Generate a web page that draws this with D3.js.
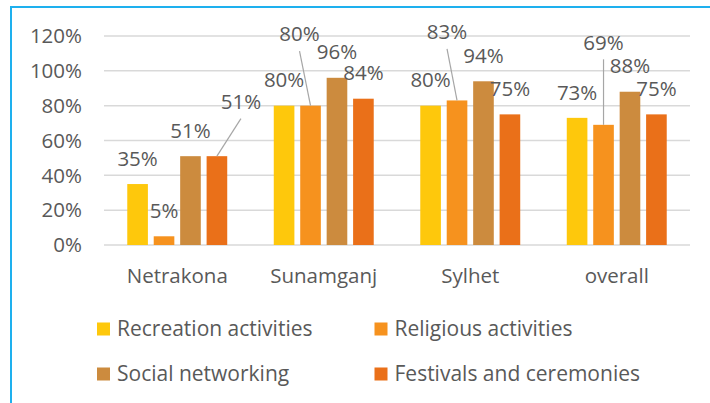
<!DOCTYPE html>
<html lang="en">
<head>
<meta charset="UTF-8">
<script src="https://cdnjs.cloudflare.com/ajax/libs/d3/7.8.5/d3.min.js"></script>
<title>Activities chart</title>
<style>
  body { margin: 0; background: #fff; font-family: 'Open Sans', sans-serif; }
  svg text { fill: #595959; }
</style>
</head>
<body>
<svg id="chart"></svg>
<script>
const categories = ['Netrakona', 'Sunamganj', 'Sylhet', 'overall']
const seriesNames = ['Recreation activities', 'Religious activities', 'Social networking', 'Festivals and ceremonies']
const recreation = [35, 80, 80, 73]
const religious = [5, 80, 83, 69]
const social = [51, 96, 94, 88]
const festivals = [51, 84, 75, 75]
const yTicks = [0, 20, 40, 60, 80, 100, 120]

const colors = ['#fec80c', '#f6921e', '#cc8b3e', '#ea7019']
// labels that Excel had dragged away from their bars: [category, series, dx, dy]
const moved = [[0, 3, 24, -29], [1, 1, -11, -46], [2, 1, -10, -43], [3, 1, 0, -57]]

const W = 710, H = 403
const margin = { top: 36, bot: 158, left: 104, right: 20 }
const allSeries = [recreation, religious, social, festivals]

const svg = d3.select('#chart').attr('width', W).attr('height', H)

// frame lines (top and left only)
svg.append('line').attr('x1', 10).attr('x2', W).attr('y1', 7).attr('y2', 7)
  .attr('stroke', '#1eb0ee').attr('stroke-width', 2)
svg.append('line').attr('x1', 11).attr('x2', 11).attr('y1', 6).attr('y2', H)
  .attr('stroke', '#1eb0ee').attr('stroke-width', 2)

const x0 = d3.scaleBand().domain(categories).range([margin.left, W - margin.right])
const x1 = d3.scaleBand().domain(d3.range(seriesNames.length))
  .range([0, x0.bandwidth()]).paddingInner(0.22).paddingOuter(0.88)
const y = d3.scaleLinear().domain([0, 120]).range([H - margin.bot, margin.top])

// gridlines
svg.append('g').selectAll('line').data(yTicks).enter().append('line')
  .attr('x1', margin.left).attr('x2', W - margin.right)
  .attr('y1', d => y(d)).attr('y2', d => y(d))
  .attr('stroke', '#d9d9d9').attr('stroke-width', 1.5)

// y labels
svg.append('g').selectAll('text').data(yTicks).enter().append('text')
  .attr('x', 82).attr('y', d => y(d)).attr('dy', '0.35em')
  .attr('text-anchor', 'end').style('font-size', '20.5px')
  .text(d => d + '%')

// bars
const cells = []
categories.forEach((c, ci) => {
  allSeries.forEach((s, si) => cells.push({ ci, si, cat: c, v: s[ci] }))
})

svg.append('g').selectAll('rect').data(cells).enter().append('rect')
  .attr('x', d => x0(d.cat) + x1(d.si))
  .attr('width', x1.bandwidth())
  .attr('y', d => y(d.v))
  .attr('height', d => y(0) - y(d.v))
  .attr('fill', d => colors[d.si])

// data labels
cells.forEach(d => {
  const bx = x0(d.cat) + x1(d.si) + x1.bandwidth() / 2
  const by = y(d.v)
  let lx = bx, ly = by - 25.5
  const m = moved.find(r => r[0] === d.ci && r[1] === d.si)
  if (m) {
    lx += m[2]; ly += m[3]
    svg.append('line').attr('x1', lx).attr('y1', ly + 17).attr('x2', bx).attr('y2', by)
      .attr('stroke', '#a6a6a6').attr('stroke-width', 1.2)
  }
  svg.append('text').attr('x', lx).attr('y', ly).attr('dy', '0.35em')
    .attr('text-anchor', 'middle').style('font-size', '20.5px')
    .text(d.v + '%')
})

// category labels
svg.append('g').selectAll('text').data(categories).enter().append('text')
  .attr('x', d => x0(d) + x0.bandwidth() / 2).attr('y', 276).attr('dy', '0.35em')
  .attr('text-anchor', 'middle').style('font-size', '20.5px')
  .text(d => d)

// legend 2x2
const legX = [97, 374.5], legY = [329, 374]
const leg = svg.append('g').selectAll('g').data(seriesNames).enter().append('g')
  .attr('transform', (d, i) => 'translate(' + legX[i % 2] + ',' + legY[Math.floor(i / 2)] + ')')
leg.append('rect').attr('x', 0).attr('y', -6.5).attr('width', 13).attr('height', 13)
  .attr('fill', (d, i) => colors[i])
leg.append('text').attr('x', 20).attr('y', 0).attr('dy', '0.35em')
  .style('font-size', '21px').text(d => d)
</script>
</body>
</html>
